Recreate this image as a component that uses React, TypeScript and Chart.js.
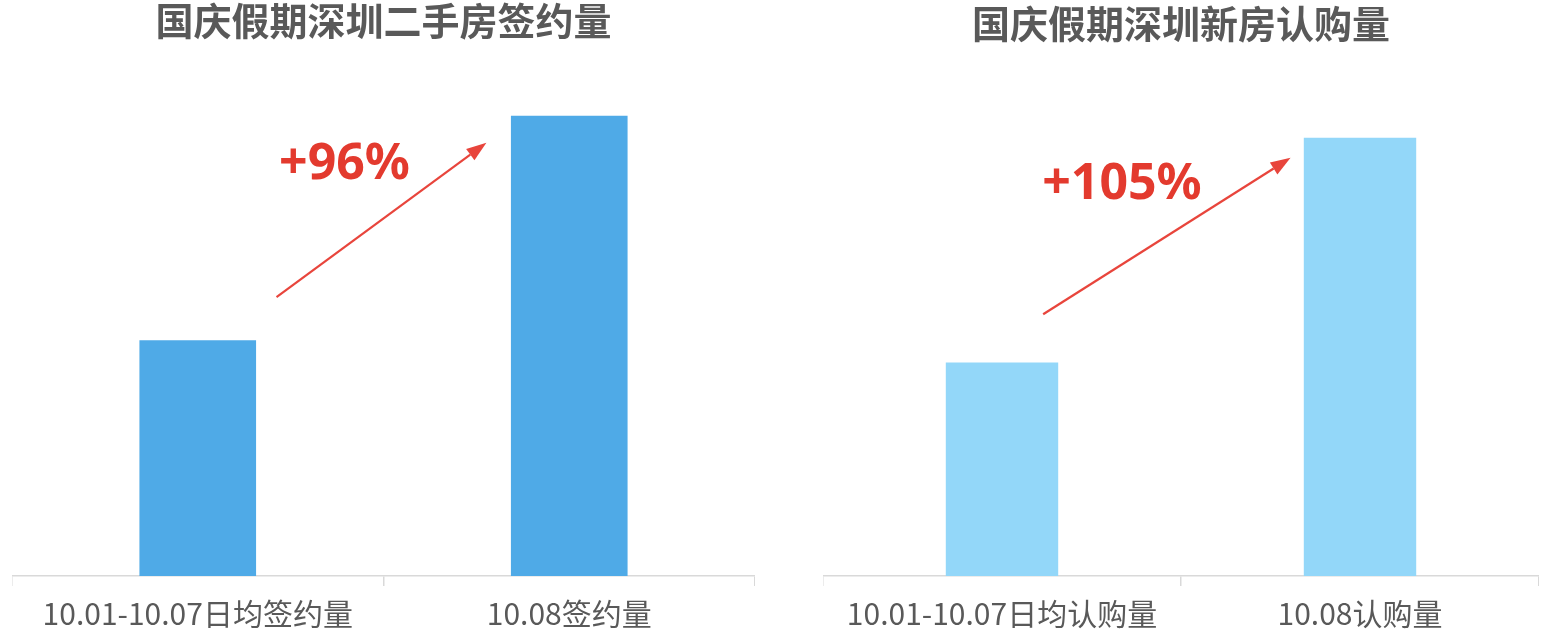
import React, { useEffect, useRef } from 'react';
import { Chart, registerables, ChartConfiguration, Plugin } from 'chart.js';

Chart.register(...registerables);

// left panel: second-hand housing contracts
const resaleTitle = '国庆假期深圳二手房签约量';
const resaleLabels = ['10.01-10.07日均签约量', '10.08签约量'];
const resaleValues = [235, 459];
const resaleGrowth = '+96%';

// right panel: new housing subscriptions
const newTitle = '国庆假期深圳新房认购量';
const newLabels = ['10.01-10.07日均认购量', '10.08认购量'];
const newValues = [213, 437];
const newGrowth = '+105%';

const Y_MAX = 496;

type ArrowNote = {
  text: string;
  from: [number, number]; // [category index, value]
  to: [number, number];
  at: [number, number];
};

// draws the red growth arrow and its percentage, placed through the scales
const arrowNotePlugin: Plugin<'bar'> = {
  id: 'arrowNote',
  afterDatasetsDraw(chart, _args, opts: any) {
    const note = opts as ArrowNote;
    if (!note || !note.from) return;
    const { ctx } = chart;
    const x = chart.scales.x;
    const y = chart.scales.y;
    const x1 = x.getPixelForValue(note.from[0]);
    const y1 = y.getPixelForValue(note.from[1]);
    const x2 = x.getPixelForValue(note.to[0]);
    const y2 = y.getPixelForValue(note.to[1]);
    const ang = Math.atan2(y2 - y1, x2 - x1);
    const head = 20;
    const half = 7;
    const bx = x2 - head * Math.cos(ang);
    const by = y2 - head * Math.sin(ang);

    ctx.save();
    ctx.strokeStyle = '#E8453C';
    ctx.fillStyle = '#E8453C';
    ctx.lineWidth = 2.2;
    ctx.beginPath();
    ctx.moveTo(x1, y1);
    ctx.lineTo(bx, by);
    ctx.stroke();
    ctx.beginPath();
    ctx.moveTo(x2, y2);
    ctx.lineTo(bx + half * Math.sin(ang), by - half * Math.cos(ang));
    ctx.lineTo(bx - half * Math.sin(ang), by + half * Math.cos(ang));
    ctx.closePath();
    ctx.fill();

    ctx.fillStyle = '#E33A2E';
    ctx.font = 'bold 50px "Noto Sans", "Open Sans", sans-serif';
    ctx.textAlign = 'center';
    ctx.textBaseline = 'middle';
    ctx.fillText(note.text, x.getPixelForValue(note.at[0]), y.getPixelForValue(note.at[1]));
    ctx.restore();
  },
};

type PanelProps = {
  title: string;
  labels: string[];
  values: number[];
  color: string;
  note: ArrowNote;
  titleTop: number;
  left: number;
  width: number;
};

function BarPanel({ title, labels, values, color, note, titleTop, left, width }: PanelProps) {
  const canvasRef = useRef<HTMLCanvasElement | null>(null);

  useEffect(() => {
    if (!canvasRef.current) return;
    const ctx = canvasRef.current.getContext('2d');
    if (!ctx) return;

    const config: ChartConfiguration<'bar', number[], string> = {
      type: 'bar',
      data: {
        labels: labels,
        datasets: [
          {
            data: values,
            backgroundColor: color,
            categoryPercentage: 1,
            barPercentage: 0.314,
          },
        ],
      },
      options: {
        responsive: true,
        maintainAspectRatio: false,
        animation: false,
        layout: { padding: 0 },
        plugins: {
          legend: { display: false },
          tooltip: { enabled: false },
          title: {
            display: true,
            text: title,
            color: '#595959',
            font: { family: '"Noto Sans CJK SC", sans-serif', size: 38, weight: 'bold', lineHeight: 1.2 },
            padding: { top: titleTop, bottom: 35 - titleTop },
          },
          // @ts-ignore custom plugin options
          arrowNote: note,
        },
        scales: {
          x: {
            grid: {
              display: true,
              drawOnChartArea: false,
              drawTicks: true,
              tickLength: 10,
              color: '#D9D9D9',
              lineWidth: 1.5,
            },
            border: { display: true, color: '#D9D9D9', width: 1.5 },
            ticks: {
              color: '#595959',
              font: { family: '"Noto Sans CJK SC", sans-serif', size: 30, lineHeight: 1.2 },
              padding: 10,
              maxRotation: 0,
              autoSkip: false,
            },
          },
          y: {
            display: false,
            min: 0,
            max: Y_MAX,
          },
        },
      },
      plugins: [arrowNotePlugin],
    };

    const chartInstance = new Chart(ctx, config as any);
    return () => {
      chartInstance.destroy();
    };
  }, []);

  return (
    <div style={{ position: 'absolute', left: left, top: -2, width: width, height: 644 }}>
      <canvas ref={canvasRef} />
    </div>
  );
}

export default function App() {
  return (
    <div
      style={{
        position: 'fixed',
        left: 0,
        top: 0,
        width: 1564,
        height: 632,
        overflow: 'hidden',
        background: '#fff',
      }}
    >
      <BarPanel
        title={resaleTitle}
        labels={resaleLabels}
        values={resaleValues}
        color="#4FAAE7"
        titleTop={0}
        left={12}
        width={743}
        note={{ text: resaleGrowth, from: [0.212, 278], to: [0.777, 432], at: [0.395, 410] }}
      />
      <BarPanel
        title={newTitle}
        labels={newLabels}
        values={newValues}
        color="#93D7F9"
        titleTop={3}
        left={823}
        width={716}
        note={{ text: newGrowth, from: [0.115, 261], to: [0.806, 417], at: [0.335, 390] }}
      />
    </div>
  );
}
